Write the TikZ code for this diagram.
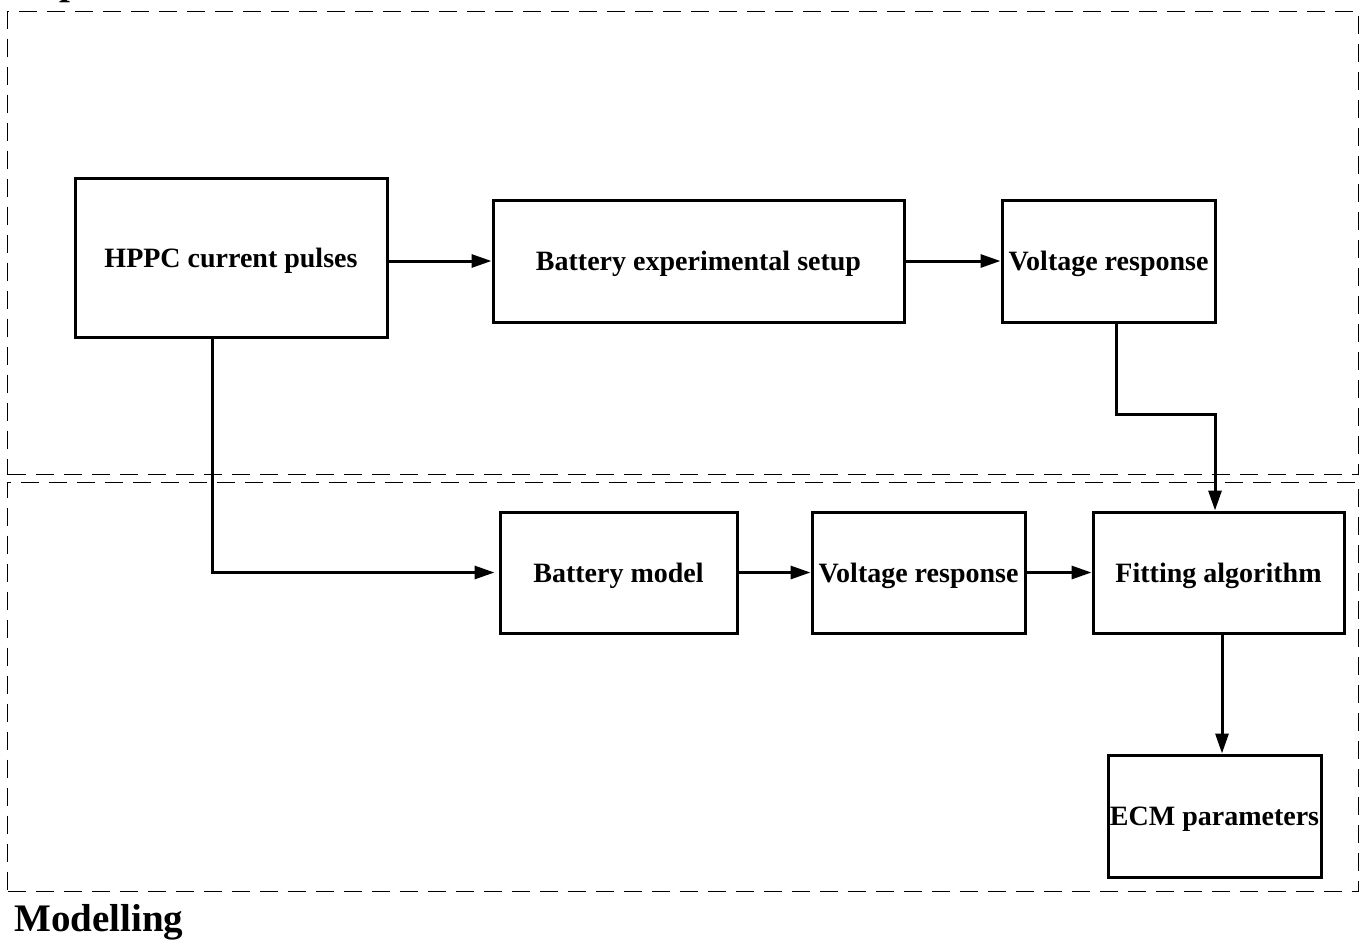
\documentclass[tikz,border=0pt]{standalone}
\usepackage{fontspec}
\setmainfont{Liberation Serif}
\usetikzlibrary{arrows.meta}
\begin{document}
\begin{tikzpicture}[x=1pt,y=-1pt,
  block/.style={draw, line width=3pt, inner sep=0pt, text height=19.5pt, text depth=0pt,
    font=\fontsize{28}{30}\selectfont\bfseries},
  flow/.style={line width=3pt, -{Triangle[length=20pt,width=13pt]}},
  region/.style={draw, line width=1.4pt, dash pattern=on 18pt off 10pt,
    inner sep=0pt, anchor=north west},
  zonelabel/.style={anchor=base west, inner sep=0pt,
    font=\fontsize{39}{41}\selectfont\bfseries}]
\useasboundingbox (0,0) rectangle (1368,942);

% the two stages of the workflow
\node[region, minimum width=1351pt, minimum height=463pt] (expzone) at (7,11) {};
\node[region, minimum width=1351pt, minimum height=409pt] (modzone) at (7,482) {};
\node[zonelabel] (explabel) at (14,-5) {Experiment};
\node[zonelabel] (modlabel) at (14,931) {Modelling};

% experiment blocks
\node[block, minimum width=312pt, minimum height=159pt] (hppc) at (231,257.5) {HPPC current pulses};
\node[block, minimum width=411pt, minimum height=122pt] (setup) at (698.5,261) {Battery experimental setup};
\node[block, minimum width=213pt, minimum height=122pt] (vexp) at (1108.5,261) {Voltage response};

% modelling blocks
\node[block, minimum width=237pt, minimum height=121pt] (model) at (618.5,572.5) {Battery model};
\node[block, minimum width=213pt, minimum height=121pt] (vmod) at (918.5,572.5) {Voltage response};
\node[block, minimum width=251pt, minimum height=121pt] (fit) at (1218.5,572.5) {Fitting algorithm};
\node[block, minimum width=213pt, minimum height=122pt] (ecm) at (1214.5,816) {ECM parameters};

% connectors
\draw[flow] (setup.west -| hppc.east) -- (setup.west);
\draw[flow] (setup.east) -- (vexp.west);
\draw[flow] ([xshift=7.5pt]vexp.south) -- ++(0,91) -| ([xshift=-3.5pt]fit.north);
\draw[flow] ([xshift=-19pt]hppc.south) |- ([xshift=-4pt]model.west);
\draw[flow] (model.east) -- (vmod.west);
\draw[flow] (vmod.east) -- (fit.west);
\draw[flow] ([xshift=3.5pt]fit.south) -- ([xshift=3.5pt]fit.south |- ecm.north);
\end{tikzpicture}
\end{document}
